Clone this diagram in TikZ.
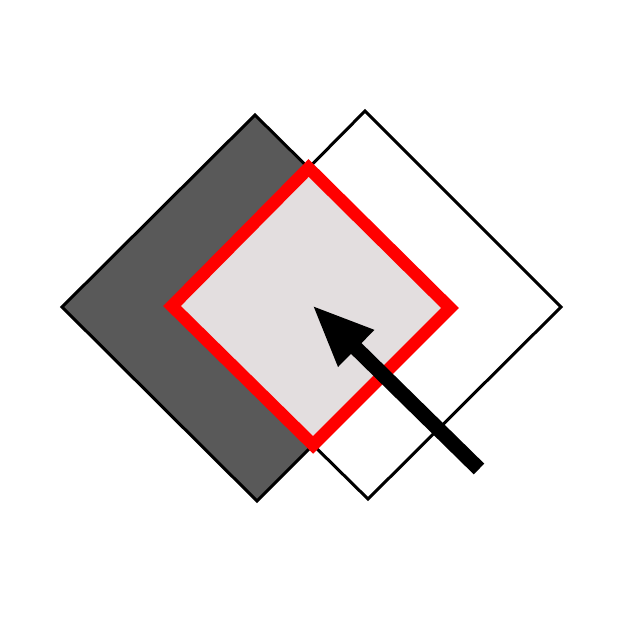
\documentclass[tikz,border=0pt]{standalone}
\usetikzlibrary{arrows.meta}
\definecolor{darkfill}{HTML}{595959}
\definecolor{overlapfill}{HTML}{E3DEDF}
\begin{document}
\begin{tikzpicture}[x=1pt, y=-1pt]
        \useasboundingbox (0,0) rectangle (623,623);

        % Dark square
        \draw[line width=3pt, fill=darkfill] (62,307) -- (255,115) -- (450,308) -- (257,501) -- cycle;

        % White square
        \draw[line width=3pt] (172,306) -- (365,111) -- (561,307) -- (368,499) -- cycle;

        % Overlap
        \draw[line width=12.5pt, red, fill=overlapfill, line join=miter]
            (172,306) -- (308.6,168) -- (450,308) -- (313.1,444.9) -- cycle;

        % Arrow
        \coordinate (tail) at (479,469);
        \coordinate (tip) at (312,305);
        \draw[line width=15pt, -{Triangle[length=62pt, width=47pt]}] (tail) -- (tip);

    \end{tikzpicture}
\end{document}
